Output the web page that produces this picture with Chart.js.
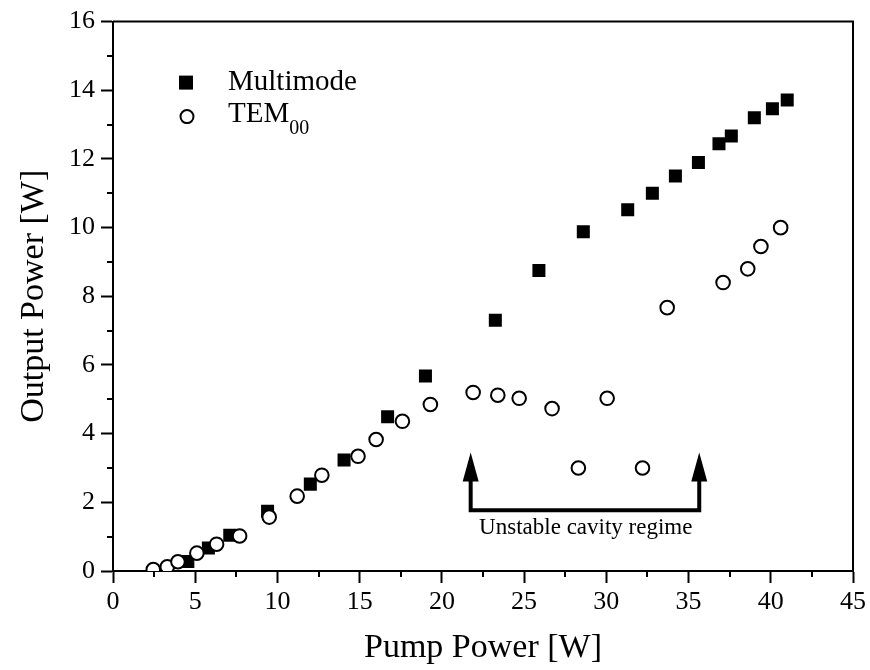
<!DOCTYPE html>
<html>
<head>
<meta charset="utf-8">
<script src="https://cdn.jsdelivr.net/npm/chart.js@4"></script>
<style>
  html, body { margin: 0; padding: 0; background: #fff; }
  #wrap { width: 870px; height: 670px; }
</style>
</head>
<body>
<div id="wrap"><canvas id="grafico"></canvas></div>
<script>
// Multimode (filled squares)
const multiX = [4.55, 5.8, 7.1, 9.4, 12.0, 14.05, 16.7, 19.0, 23.25, 25.9, 28.6, 31.3, 32.8, 34.2, 35.6, 36.85, 37.6, 39.0, 40.1, 41.0];
const multiY = [0.28, 0.67, 1.04, 1.74, 2.53, 3.23, 4.49, 5.68, 7.3, 8.75, 9.88, 10.52, 11.0, 11.5, 11.9, 12.44, 12.67, 13.2, 13.46, 13.72];
// TEM00 (open circles)
const temX = [2.45, 3.3, 3.95, 5.1, 6.3, 7.7, 9.5, 11.2, 12.7, 14.9, 16.0, 17.6, 19.3, 21.9, 23.4, 24.7, 26.7, 28.3, 30.05, 32.2, 33.7, 37.1, 38.6, 39.4, 40.6];
const temY = [0.04, 0.12, 0.27, 0.52, 0.78, 1.02, 1.57, 2.18, 2.79, 3.34, 3.83, 4.36, 4.85, 5.2, 5.12, 5.03, 4.73, 3.0, 5.03, 3.0, 7.67, 8.4, 8.8, 9.45, 10.0];

const xTicks = [0, 5, 10, 15, 20, 25, 30, 35, 40, 45];
const yTicks = [0, 2, 4, 6, 8, 10, 12, 14, 16];

// marca "Unstable cavity regime"
const flechasX = [21.75, 35.65];
const flechaBase = 1.77;
const flechaPunta = 3.45;
const textoRegimen = 'Unstable cavity regime';
const textoRegimenPos = [28.75, 1.25];

const serif = '"Liberation Serif", "DejaVu Serif", serif';

function puntos(xs, ys) {
    return xs.map((x, i) => ({ x: x, y: ys[i] }));
}

// ticks menores, marco, flechas y leyenda
const extras = {
    id: 'extras',
    afterDraw(chart) {
        const ctx = chart.ctx;
        const a = chart.chartArea;
        const sx = chart.scales.x, sy = chart.scales.y;
        ctx.save();
        ctx.strokeStyle = '#000';
        ctx.lineWidth = 2;
        // marco superior y derecho
        ctx.beginPath();
        ctx.moveTo(a.left, a.top);
        ctx.lineTo(a.right, a.top);
        ctx.lineTo(a.right, a.bottom);
        ctx.stroke();
        // ticks menores
        ctx.beginPath();
        for (let v = 2.5; v < 45; v += 5) {
            const px = Math.round(sx.getPixelForValue(v));
            ctx.moveTo(px, a.bottom);
            ctx.lineTo(px, a.bottom + 6);
        }
        for (let v = 1; v < 16; v += 2) {
            const py = Math.round(sy.getPixelForValue(v));
            ctx.moveTo(a.left, py);
            ctx.lineTo(a.left - 6, py);
        }
        ctx.stroke();

        // flechas
        ctx.lineWidth = 4;
        const yb = sy.getPixelForValue(flechaBase);
        const yt = sy.getPixelForValue(flechaPunta);
        const x1 = sx.getPixelForValue(flechasX[0]);
        const x2 = sx.getPixelForValue(flechasX[1]);
        ctx.beginPath();
        ctx.moveTo(x1, yt + 20);
        ctx.lineTo(x1, yb);
        ctx.lineTo(x2, yb);
        ctx.lineTo(x2, yt + 20);
        ctx.stroke();
        ctx.fillStyle = '#000';
        [x1, x2].forEach(x => {
            ctx.beginPath();
            ctx.moveTo(x, yt);
            ctx.lineTo(x - 8, yt + 29);
            ctx.lineTo(x + 8, yt + 29);
            ctx.closePath();
            ctx.fill();
        });
        ctx.font = '23px ' + serif;
        ctx.textAlign = 'center';
        ctx.textBaseline = 'middle';
        ctx.fillText(textoRegimen, sx.getPixelForValue(textoRegimenPos[0]), sy.getPixelForValue(textoRegimenPos[1]));

        // leyenda
        const lx = a.left + 73;
        ctx.fillRect(lx - 7, a.top + 61 - 7, 14, 14);
        ctx.lineWidth = 2;
        ctx.fillStyle = '#fff';
        ctx.beginPath();
        ctx.arc(lx + 1, a.top + 95, 6.5, 0, Math.PI * 2);
        ctx.fill();
        ctx.stroke();
        ctx.fillStyle = '#000';
        ctx.textAlign = 'left';
        ctx.font = '29px ' + serif;
        ctx.fillText('Multimode', a.left + 115, a.top + 61);
        ctx.fillText('TEM', a.left + 115, a.top + 93);
        const w = ctx.measureText('TEM').width;
        ctx.font = '20px ' + serif;
        ctx.fillText('00', a.left + 115 + w, a.top + 107);
        ctx.restore();
    }
};

const ctxGrafico = document.getElementById('grafico').getContext('2d');
new Chart(ctxGrafico, {
    type: 'scatter',
    data: {
        datasets: [{
            label: 'Multimode',
            data: puntos(multiX, multiY),
            pointStyle: 'rect',
            pointRadius: 9.2,
            backgroundColor: '#000',
            borderColor: '#000',
            borderWidth: 0,
            order: 2
        }, {
            label: 'TEM00',
            data: puntos(temX, temY),
            pointStyle: 'circle',
            pointRadius: 6.8,
            backgroundColor: '#fff',
            borderColor: '#000',
            borderWidth: 2,
            order: 1
        }]
    },
    options: {
        responsive: true,
        maintainAspectRatio: false,
        animation: false,
        layout: { padding: { top: 20, right: 16, left: 0, bottom: 0 } },
        plugins: {
            legend: { display: false },
            tooltip: { enabled: false }
        },
        scales: {
            x: {
                type: 'linear',
                min: 0,
                max: 45,
                afterFit(s) { s.height = 99; },
                afterBuildTicks(s) { s.ticks = xTicks.map(v => ({ value: v })); },
                ticks: {
                    color: '#000',
                    padding: 4,
                    font: { family: serif, size: 26 }
                },
                grid: { drawOnChartArea: false, drawTicks: true, tickLength: 12, tickWidth: 2, tickColor: '#000' },
                border: { display: true, color: '#000', width: 2 },
                title: {
                    display: true,
                    text: 'Pump Power [W]',
                    color: '#000',
                    padding: { top: 0, bottom: 2 },
                    font: { family: serif, size: 34 }
                }
            },
            y: {
                type: 'linear',
                min: 0,
                max: 16,
                afterFit(s) { s.width = 113; },
                afterBuildTicks(s) { s.ticks = yTicks.map(v => ({ value: v })); },
                ticks: {
                    color: '#000',
                    padding: 6,
                    font: { family: serif, size: 26 }
                },
                grid: { drawOnChartArea: false, drawTicks: true, tickLength: 12, tickWidth: 2, tickColor: '#000' },
                border: { display: true, color: '#000', width: 2 },
                title: {
                    display: true,
                    text: 'Output Power [W]',
                    color: '#000',
                    padding: { top: 14, bottom: 0 },
                    font: { family: serif, size: 34 }
                }
            }
        }
    },
    plugins: [extras]
});
</script>
</body>
</html>
